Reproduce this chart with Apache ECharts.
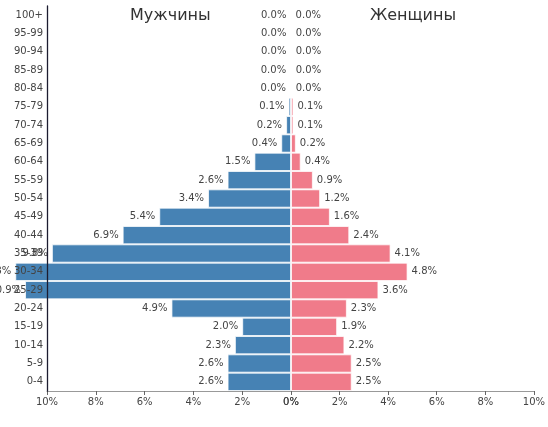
<!DOCTYPE html>
<html>
<head>
<meta charset="utf-8">
<script src="https://cdn.jsdelivr.net/npm/echarts@6/dist/echarts.min.js"></script>
<style>html,body{margin:0;padding:0;background:#fff}#c{width:548px;height:427px}</style>
</head>
<body>
<div id="c"></div>
<script>
const categories = ['0-4','5-9','10-14','15-19','20-24','25-29','30-34','35-39','40-44','45-49','50-54','55-59','60-64','65-69','70-74','75-79','80-84','85-89','90-94','95-99','100+'];
const male =   [2.6, 2.6, 2.3, 2.0, 4.9, 10.9, 11.3, 9.8, 6.9, 5.4, 3.4, 2.6, 1.5, 0.4, 0.2, 0.1, 0.04, 0.03, 0.01, 0.01, 0.01];
const female = [2.5, 2.5, 2.2, 1.9, 2.3, 3.6, 4.8, 4.1, 2.4, 1.6, 1.2, 0.9, 0.4, 0.2, 0.1, 0.1, 0.02, 0.02, 0.02, 0.02, 0.01];
const titles = ['Мужчины', 'Женщины'];
const xTicks = [0, 2, 4, 6, 8, 10];

const chart = echarts.init(document.getElementById('c'));
const font = 'DejaVu Sans';
const fmt = p => p.value.toFixed(1) + '%';
const xAxisCommon = {
  type: 'value', min: xTicks[0], max: xTicks[xTicks.length - 1], interval: xTicks[1] - xTicks[0],
  splitLine: { show: false },
  axisLine: { show: true, onZero: false, lineStyle: { color: '#999' } },
  axisTick: { show: true, length: 4, lineStyle: { color: '#666' } },
  axisLabel: { formatter: '{value}%', color: '#444', fontSize: 10, fontFamily: font, margin: 6 }
};
chart.setOption({
  animation: false,
  textStyle: { fontFamily: font },
  title: [
    { text: titles[0], left: 125, top: 3, textStyle: { fontSize: 16, fontWeight: 'normal', color: '#333', fontFamily: font } },
    { text: titles[1], left: 365, top: 3, textStyle: { fontSize: 16, fontWeight: 'normal', color: '#333', fontFamily: font } }
  ],
  grid: [
    { left: 47, right: 257, top: 6, bottom: 36 },
    { left: 291, right: 12, top: 6, bottom: 36 }
  ],
  xAxis: [
    Object.assign({ gridIndex: 0, inverse: true }, xAxisCommon),
    Object.assign({ gridIndex: 1 }, xAxisCommon)
  ],
  yAxis: [
    { type: 'category', gridIndex: 0, data: categories, z: 10, position: 'left',
      axisLine: { show: true, onZero: false, lineStyle: { color: '#1c1c30', width: 1.3 } },
      axisTick: { show: false },
      axisLabel: { color: '#444', fontSize: 10, fontFamily: font, margin: 4 } },
    { type: 'category', gridIndex: 1, data: categories,
      axisLine: { show: false }, axisTick: { show: false }, axisLabel: { show: false } }
  ],
  series: [
    { type: 'bar', xAxisIndex: 0, yAxisIndex: 0, data: male, clip: false,
      barCategoryGap: '0%',
      itemStyle: { color: '#4682b4', borderColor: 'rgba(255,255,255,0.75)', borderWidth: 1 },
      label: { show: true, position: 'left', distance: 4, formatter: fmt, color: '#444', fontSize: 10, fontFamily: font } },
    { type: 'bar', xAxisIndex: 1, yAxisIndex: 1, data: female, clip: false,
      barCategoryGap: '0%',
      itemStyle: { color: '#f07b8a', borderColor: 'rgba(255,255,255,0.75)', borderWidth: 1 },
      label: { show: true, position: 'right', distance: 4, formatter: fmt, color: '#444', fontSize: 10, fontFamily: font } }
  ]
});
</script>
</body>
</html>
